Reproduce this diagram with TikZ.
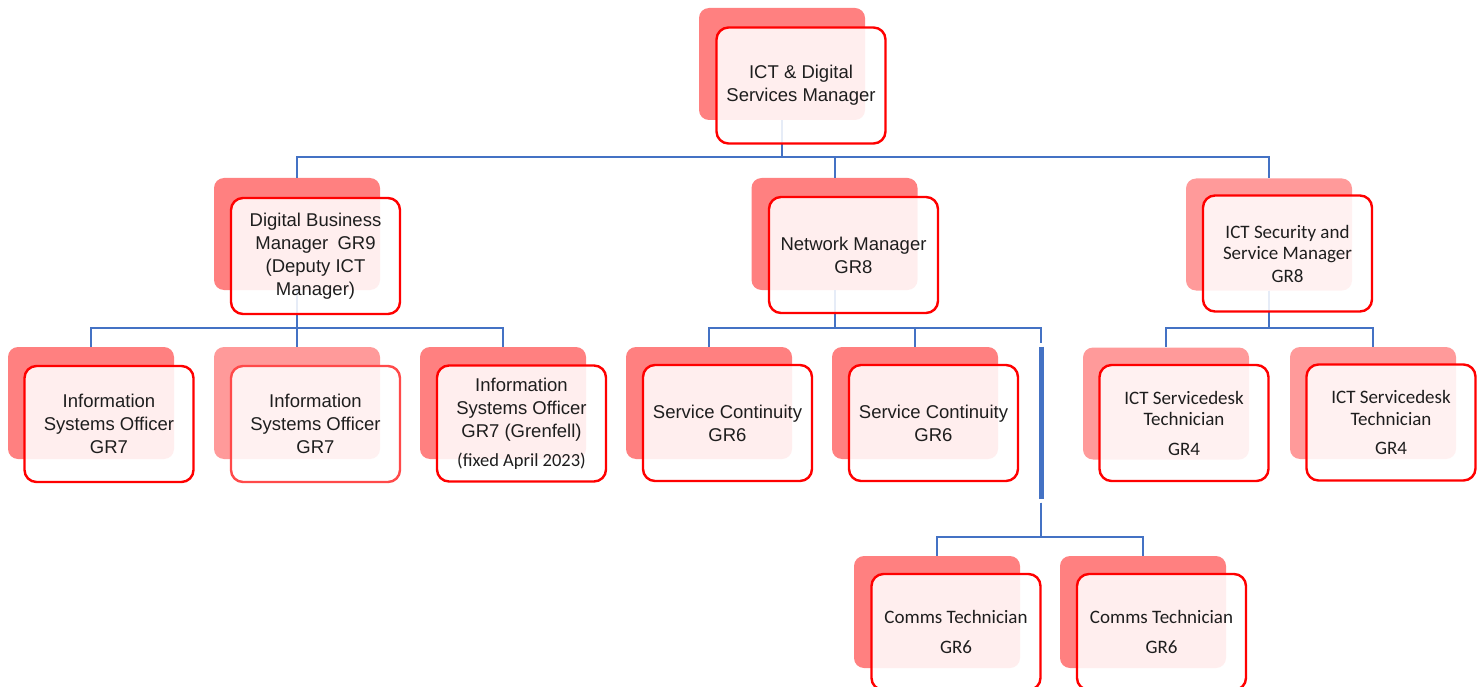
\documentclass[tikz,border=0pt]{standalone}
\usepackage{fontspec}
\setmainfont{Liberation Sans}
\newfontfamily\calib{Carlito}
\definecolor{backA}{HTML}{FF8080}
\definecolor{backB}{HTML}{FF9A9A}
\definecolor{frameRed}{HTML}{FF0000}
\definecolor{frameSoft}{HTML}{FF4A4A}
\definecolor{linkBlue}{HTML}{4472C4}
\definecolor{ink}{HTML}{1E1E1E}
\newcommand\arialtext{\fontsize{18.5}{23}\selectfont}
\newcommand\calibtext{\calib\fontsize{19}{21.5}\selectfont}
\tikzset{
  back/.style={fill=backA, rounded corners=10pt, minimum width=166pt,
    minimum height=112pt, inner sep=0pt},
  backlite/.style={back, fill=backB},
  front/.style={draw=frameRed, line width=2.4pt, fill=white, fill opacity=0.87,
    text opacity=1, rounded corners=12pt, minimum width=169pt,
    minimum height=116pt, align=center, inner sep=0pt, text=ink,
    font=\arialtext},
  frontcal/.style={front, font=\calibtext},
  conn/.style={draw=linkBlue, line width=2pt},
  spine/.style={draw=linkBlue, line width=5pt},
}
\begin{document}
\begin{tikzpicture}[x=1pt,y=-1pt]
\useasboundingbox (0,0) rectangle (1483,687);
\clip (0,0) rectangle (1483,687);

% shadow cards
\node[back]     (topB) at (782,64) {};
\node[back]     (dbmB) at (297,234) {};
\node[back]     (nmB)  at (834.5,234) {};
\node[backlite] (secB) at (1269,234.5) {};
\node[back]     (iso1B) at (91,403) {};
\node[backlite] (iso2B) at (297,403) {};
\node[back]     (iso3B) at (503,403) {};
\node[back]     (sc1B) at (709,403) {};
\node[back]     (sc2B) at (915,403) {};
\node[backlite] (sd1B) at (1166,403.5) {};
\node[backlite] (sd2B) at (1373,403) {};
\node[back]     (c1B) at (937,612) {};
\node[back]     (c2B) at (1143,612) {};

% bus levels and the stretched branch
\coordinate (busA) at (0,157);
\coordinate (busB) at (0,328);
\coordinate (busC) at (0,537);
\coordinate (jA) at (1041,343);
\coordinate (jB) at (1041,346.5);
\coordinate (jC) at (1041,499);
\coordinate (jD) at (1041,502.5);

% connectors
\draw[conn] (topB.south) -- (topB.south |- busA) -| (dbmB.north);
\draw[conn] (topB.south) -- (topB.south |- busA) -| (nmB.north);
\draw[conn] (topB.south) -- (topB.south |- busA) -| (secB.north);

\draw[conn] (dbmB.south) -- (dbmB.south |- busB) -| (iso1B.north);
\draw[conn] (dbmB.south) -- (dbmB.south |- busB) -| (iso2B.north);
\draw[conn] (dbmB.south) -- (dbmB.south |- busB) -| (iso3B.north);

\draw[conn] (nmB.south) -- (nmB.south |- busB) -| (sc1B.north);
\draw[conn] (nmB.south) -- (nmB.south |- busB) -| (sc2B.north);
\draw[conn] (nmB.south) -- (nmB.south |- busB) -| (jA);
\draw[spine] (jB) -- (jC);
\draw[conn] (jD) -- (jD |- busC) -| (c1B.north);
\draw[conn] (jD) -- (jD |- busC) -| (c2B.north);

\draw[conn] (secB.south) -- (secB.south |- busB) -| (sd1B.north);
\draw[conn] (secB.south) -- (secB.south |- busB) -| (sd2B.north);

% front cards
\node[front] (topF) at ([shift={(19,21.5)}]topB.center)
  {ICT \& Digital\\Services Manager};
\node[front] (dbmF) at ([shift={(18.5,22)}]dbmB.center)
  {Digital Business\\Manager\enspace GR9\\(Deputy ICT\\Manager)};
\node[front] (nmF) at ([shift={(19,21)}]nmB.center)
  {Network Manager\\GR8};
\node[frontcal] (secF) at ([shift={(18.5,19)}]secB.center)
  {ICT Security and\\Service Manager\\[1pt]GR8};
\node[front] (iso1F) at ([shift={(18,21)}]iso1B.center)
  {Information\\Systems Officer\\GR7};
\node[front, draw=frameSoft] (iso2F) at ([shift={(18.5,21)}]iso2B.center)
  {Information\\Systems Officer\\GR7};
\node[front] (iso3F) at ([shift={(18.5,20.5)}]iso3B.center)
  {Information\\Systems Officer\\GR7 (Grenfell)\\[6pt]{\calib\fontsize{18.5}{21}\selectfont (fixed April 2023)}};
\node[front] (sc1F) at ([shift={(18.5,20)}]sc1B.center)
  {Service Continuity\\GR6};
\node[front] (sc2F) at ([shift={(18.5,20)}]sc2B.center)
  {Service Continuity\\GR6};
\node[frontcal] (sd1F) at ([shift={(18,19.5)}]sd1B.center)
  {ICT Servicedesk\\Technician\\[8pt]GR4};
\node[frontcal] (sd2F) at ([shift={(18,19.5)}]sd2B.center)
  {ICT Servicedesk\\Technician\\[8pt]GR4};
\node[frontcal] (c1F) at ([shift={(19,20)}]c1B.center)
  {Comms Technician\\[8pt]GR6};
\node[frontcal] (c2F) at ([shift={(18.5,20)}]c2B.center)
  {Comms Technician\\[8pt]GR6};
\end{tikzpicture}
\end{document}
